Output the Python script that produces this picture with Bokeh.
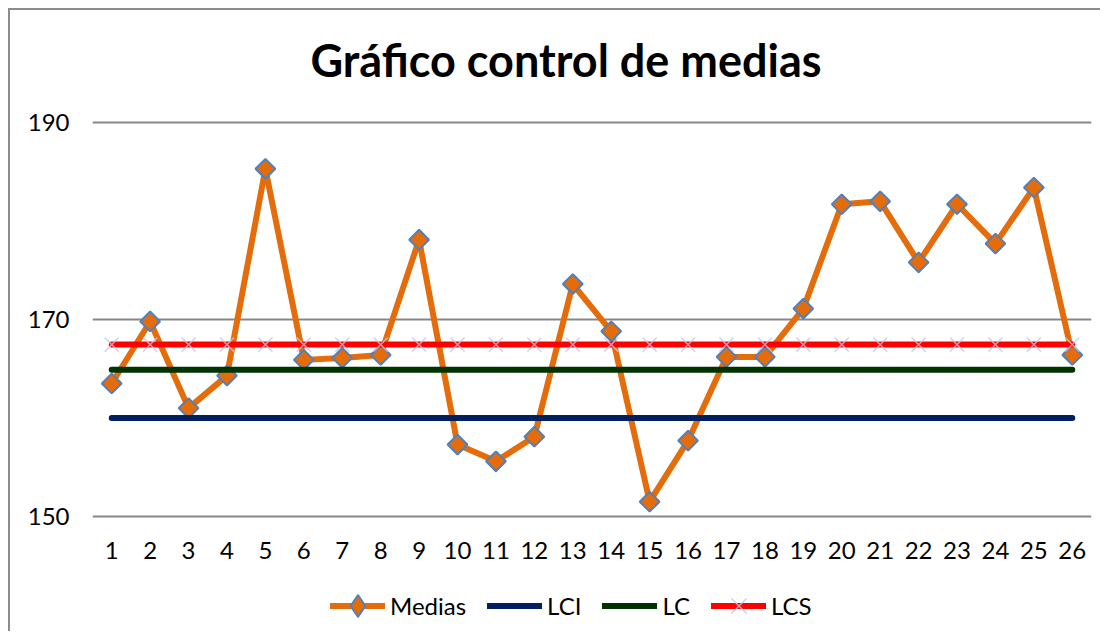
from bokeh.plotting import figure
from bokeh.models import Range1d, FixedTicker, Legend, LegendItem, Label
from bokeh.embed import file_html
from bokeh.resources import INLINE

title_text = "Gráfico control de medias"
muestras = list(range(1, 27))
medias = [163.5, 169.8, 161.0, 164.3, 185.3, 165.9, 166.1, 166.4, 178.1, 157.3,
          155.6, 158.1, 173.6, 168.8, 151.5, 157.7, 166.2, 166.2, 171.1, 181.7,
          182.0, 175.8, 181.7, 177.7, 183.4, 166.4]
lci_value = 160.0
lc_value = 164.9
lcs_value = 167.45
lci = [lci_value] * len(muestras)
lc = [lc_value] * len(muestras)
lcs = [lcs_value] * len(muestras)
y_ticks = [150, 170, 190]

FONT = "Lato"

p = figure(width=1092, height=623, title_location=None,
           x_range=Range1d(0.5, 26.5), y_range=Range1d(138.12, 201.37),
           output_backend="svg", toolbar_location=None,
           min_border_left=82, min_border_right=11,
           min_border_top=0, min_border_bottom=0,
           styles={"margin": "8px 0 0 8px",
                   "border-left": "2px solid #8c8c8c",
                   "border-top": "2px solid #8c8c8c"})
p.outline_line_color = None
p.background_fill_color = "white"
p.border_fill_color = "white"

# axes
p.xaxis.ticker = FixedTicker(ticks=muestras)
p.xaxis.fixed_location = y_ticks[0]
p.yaxis.ticker = FixedTicker(ticks=y_ticks)
for ax in (p.xaxis[0], p.yaxis[0]):
    ax.axis_line_color = None
    ax.major_tick_line_color = None
    ax.minor_tick_line_color = None
    ax.major_label_text_font = FONT
    ax.major_label_text_font_size = "24px"
    ax.major_label_text_color = "#000000"
p.yaxis.major_label_standoff = 17
p.xaxis.major_label_standoff = 20
p.xgrid.grid_line_color = None
p.ygrid.ticker = FixedTicker(ticks=y_ticks)
p.ygrid.grid_line_color = "#878787"
p.ygrid.grid_line_width = 2

# series
l_med = p.line(muestras, medias, line_color="#E46C0A", line_width=6,
               line_cap="round", line_join="round")
s_med = p.scatter(muestras, medias, marker="square", size=14, angle=0.785398,
                  fill_color="#E46C0A", line_color="#4F81BD", line_width=2)
l_lci = p.line(muestras, lci, line_color="#002060", line_width=6, line_cap="round")
l_lc = p.line(muestras, lc, line_color="#003300", line_width=6, line_cap="round")
l_lcs = p.line(muestras, lcs, line_color="#FF0000", line_width=6, line_cap="round")
s_lcs = p.scatter(muestras, lcs, marker="x", size=20, line_color="#C5C5E6",
                  line_width=1.5, line_alpha=0.8)

# hidden renderers used only for the legend's marker symbols
leg_med = p.scatter(muestras, medias, marker="diamond", fill_color="#E46C0A",
                    line_color="#4F81BD", line_width=2, visible=False)
leg_lcs = p.scatter(muestras, lcs, marker="x", line_color="#C5C5E6",
                    line_width=1.5, line_alpha=0.8, visible=False)

# title
p.add_layout(Label(x=13.5, y=190, text=title_text, x_offset=-26, y_offset=62,
                   text_align="center", text_baseline="alphabetic",
                   text_font=FONT, text_font_style="bold",
                   text_font_size="45px", text_color="#000000"))

legend = Legend(items=[
    LegendItem(label="Medias", renderers=[l_med, leg_med]),
    LegendItem(label="LCI", renderers=[l_lci]),
    LegendItem(label="LC", renderers=[l_lc]),
    LegendItem(label="LCS", renderers=[l_lcs, leg_lcs]),
], orientation="horizontal", location=(238, 0),
    glyph_width=55, glyph_height=55, label_standoff=5, spacing=21,
    padding=0, margin=0, border_line_color=None, background_fill_alpha=0,
    label_text_font=FONT, label_text_font_size="24px", label_text_color="#000000")
p.add_layout(legend)

open("out.html", "w").write(file_html(p, INLINE))
